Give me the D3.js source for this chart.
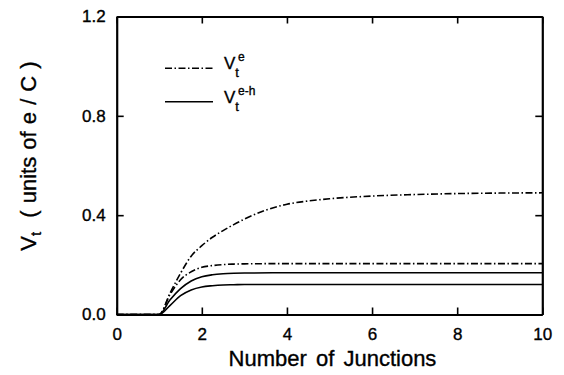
<!DOCTYPE html>
<html><head><meta charset="utf-8">
<script src="https://cdn.jsdelivr.net/npm/d3@7"></script>
<style>body{margin:0;background:#fff;} text{font-family:"Liberation Sans",Arial,sans-serif;fill:#000;stroke:#000;stroke-width:0.35px;}</style>
</head><body><svg id="c" width="564" height="375"></svg>
<script>
const xTicks = [0, 2, 4, 6, 8, 10];
const yTicks = [0.0, 0.4, 0.8, 1.2];
const yTickLabels = ["0.0", "0.4", "0.8", "1.2"];
const legendLabels = [{base:"V", sub:"t", sup:"e"}, {base:"V", sub:"t", sup:"e-h"}];
const xLabel = "Number of Junctions";

const N_e1 = [0, 1, 1.25, 1.5, 1.75, 2, 2.25, 2.5, 2.75, 3, 3.5, 4, 4.5, 5, 6, 7, 8, 9, 10];
const V_e1 = [0, 0, 0.085, 0.166, 0.235, 0.277, 0.311, 0.338, 0.362, 0.384, 0.42, 0.444, 0.457, 0.466, 0.477, 0.483, 0.487, 0.489, 0.49];
const N_e2 = [0, 1, 1.25, 1.5, 1.75, 2, 2.25, 2.5, 2.75, 3, 4, 6, 8, 10];
const V_e2 = [0, 0, 0.079, 0.14, 0.172, 0.19, 0.197, 0.201, 0.203, 0.204, 0.205, 0.205, 0.205, 0.205];
const N_h1 = [0, 1, 1.25, 1.5, 1.75, 2, 2.25, 2.5, 2.75, 3, 4, 6, 8, 10];
const V_h1 = [0, 0, 0.058, 0.104, 0.135, 0.152, 0.160, 0.164, 0.166, 0.167, 0.168, 0.168, 0.168, 0.168];
const N_h2 = [0, 1, 1.25, 1.5, 1.75, 2, 2.25, 2.5, 2.75, 3, 4, 6, 8, 10];
const V_h2 = [0, 0, 0.036, 0.076, 0.099, 0.111, 0.116, 0.119, 0.120, 0.121, 0.121, 0.121, 0.121, 0.121];

const series = [
  {N:N_e1, V:V_e1, dash:true},
  {N:N_e2, V:V_e2, dash:true},
  {N:N_h1, V:V_h1, dash:false},
  {N:N_h2, V:V_h2, dash:false}
];

const L = 116.7, R = 542.3, T = 16.5, B = 314.5;
const svg = d3.select("#c");
const x = d3.scaleLinear().domain([0, 10]).range([L, R]);
const y = d3.scaleLinear().domain([0, 1.2]).range([B, T]);
const DASH = "7,2.5,1.5,2.5";

const line = d3.line().x(d => x(d[0])).y(d => y(d[1])).curve(d3.curveMonotoneX);
series.forEach(s => {
  svg.append("path")
    .attr("d", line(s.N.map((n, i) => [n, s.V[i]])))
    .attr("fill", "none").attr("stroke", "#000").attr("stroke-width", 1.6)
    .attr("stroke-dasharray", s.dash ? DASH : null);
});

// axes
const fs = 17;
const gB = svg.append("g").attr("transform", `translate(0,${B})`)
  .call(d3.axisBottom(x).tickValues(xTicks).tickSizeInner(-7).tickSizeOuter(0).tickPadding(14).tickFormat(d3.format("d")));
const gT = svg.append("g").attr("transform", `translate(0,${T})`)
  .call(d3.axisTop(x).tickValues(xTicks).tickSizeInner(-7).tickSizeOuter(0).tickFormat(""));
const gL = svg.append("g").attr("transform", `translate(${L},0)`)
  .call(d3.axisLeft(y).tickValues(yTicks).tickSizeInner(-7).tickSizeOuter(0).tickPadding(11).tickFormat((d, i) => yTickLabels[i]));
const gR = svg.append("g").attr("transform", `translate(${R},0)`)
  .call(d3.axisRight(y).tickValues(yTicks).tickSizeInner(-7).tickSizeOuter(0).tickFormat(""));
[gB, gT, gL, gR].forEach(g => {
  g.select(".domain").attr("stroke", "#000").attr("stroke-width", 2.2);
  g.selectAll(".tick line").attr("stroke", "#000").attr("stroke-width", 1.6);
  g.selectAll("text").attr("font-size", fs).attr("font-family", "Liberation Sans, Arial, sans-serif").attr("fill", "#000");
});
gB.selectAll(".tick text").attr("dy", "0.66em");

// axis labels
svg.append("text").attr("x", (L + R) / 2 + 3).attr("y", 366).attr("text-anchor", "middle")
  .attr("font-size", 22).attr("word-spacing", "3px").text(xLabel);

const yl = svg.append("text").attr("transform", "translate(36,156) rotate(-90)")
  .attr("text-anchor", "middle").attr("font-size", 22);
yl.append("tspan").text("V");
yl.append("tspan").attr("font-size", 15).attr("dy", 5).text("t");
yl.append("tspan").attr("dy", -5).attr("dx", 7).attr("word-spacing", "1px").text(" ( units of e / C )");

// legend
const legY = [68.3, 101.7];
legendLabels.forEach((lab, i) => {
  svg.append("line").attr("x1", 165).attr("x2", 213).attr("y1", legY[i]).attr("y2", legY[i])
    .attr("stroke", "#000").attr("stroke-width", 1.6)
    .attr("stroke-dasharray", i === 0 ? DASH : null);
  const t = svg.append("text").attr("x", 224).attr("y", legY[i] + 1).attr("font-size", 17);
  t.append("tspan").text(lab.base);
  t.append("tspan").attr("font-size", 13).attr("dy", 8).text(lab.sub);
  t.append("tspan").attr("font-size", 12).attr("dx", -1).attr("dy", -16).text(lab.sup);
});
</script></body></html>
